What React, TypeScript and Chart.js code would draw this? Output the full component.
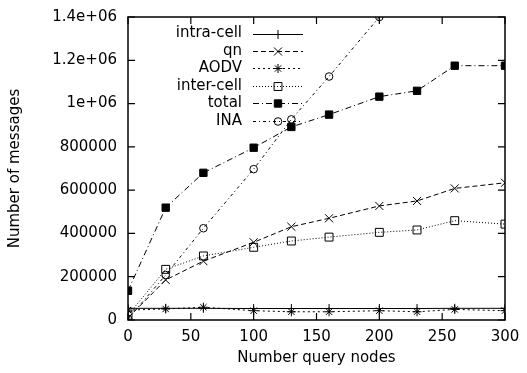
import React, { useEffect, useRef } from 'react';
import { Chart, registerables } from 'chart.js';
import { drawPoint } from 'chart.js/helpers';

Chart.register(...registerables);

// ---- data ----
const queryNodes = [0, 30, 60, 100, 130, 160, 200, 230, 260, 300];
const inaNodes = [0, 30, 60, 100, 130, 160, 200];
const intraCell = [54000, 54000, 54000, 53000, 53000, 53000, 53000, 53000, 54000, 54000];
const qn = [10000, 185000, 272000, 359000, 431000, 470000, 527000, 550000, 608000, 634000];
const aodv = [46000, 51000, 59000, 43000, 38000, 38000, 43000, 38000, 49000, 43000];
const interCell = [22000, 234000, 296000, 336000, 365000, 383000, 405000, 416000, 459000, 443000];
const total = [135000, 519000, 680000, 796000, 892000, 949000, 1032000, 1059000, 1175000, 1175000];
const ina = [5000, 208000, 424000, 697000, 927000, 1125000, 1400000];

const seriesLabels = ['intra-cell', 'qn', 'AODV', 'inter-cell', 'total', 'INA'];
const xTickValues = [0, 50, 100, 150, 200, 250, 300];
const yTickValues = [0, 200000, 400000, 600000, 800000, 1000000, 1200000, 1400000];

const FONT = 'DejaVu Sans';

// styles (kept apart from the data)
const styles = [
  { dash: [], pointStyle: 'cross', radius: 4.5, fill: 'rgba(0,0,0,0)' },
  { dash: [5, 3], pointStyle: 'crossRot', radius: 5.7, fill: 'rgba(0,0,0,0)' },
  { dash: [2, 3], pointStyle: 'star', radius: 4.5, fill: 'rgba(0,0,0,0)' },
  { dash: [1, 2], pointStyle: 'rect', radius: 5.6, fill: 'rgba(0,0,0,0)' },
  { dash: [6, 3, 1, 3], pointStyle: 'rect', radius: 5.2, fill: '#000' },
  { dash: [3, 3, 1, 3], pointStyle: 'circle', radius: 3.8, fill: 'rgba(0,0,0,0)' },
];

const seriesValues = [intraCell, qn, aodv, interCell, total, ina];
const seriesX = [queryNodes, queryNodes, queryNodes, queryNodes, queryNodes, inaNodes];

function fmtY(v: number): string {
  if (v >= 1000000) {
    const m = v / 1000000;
    return `${m}e+06`;
  }
  return String(v);
}

const framePlugin = {
  id: 'gnuplotFrame',
  beforeDatasetsDraw(chart: any) {
    const { ctx, chartArea } = chart;
    const { left, right, top, bottom } = chartArea;
    const xs = chart.scales.x;
    const ys = chart.scales.y;
    ctx.save();
    ctx.strokeStyle = '#000';
    ctx.lineWidth = 1.5;
    ctx.setLineDash([]);
    ctx.strokeRect(left, top, right - left, bottom - top);
    ctx.lineWidth = 1.2;
    const tl = 7;
    ctx.beginPath();
    for (const v of xTickValues) {
      const px = xs.getPixelForValue(v);
      ctx.moveTo(px, bottom);
      ctx.lineTo(px, bottom - tl);
      ctx.moveTo(px, top);
      ctx.lineTo(px, top + tl);
    }
    for (const v of yTickValues) {
      const py = ys.getPixelForValue(v);
      ctx.moveTo(left, py);
      ctx.lineTo(left + tl, py);
      ctx.moveTo(right, py);
      ctx.lineTo(right - tl, py);
    }
    ctx.stroke();
    ctx.restore();
  },
};

const legendPlugin = {
  id: 'gnuplotLegend',
  afterDraw(chart: any) {
    const { ctx } = chart;
    const textRight = 242;
    const lineStart = 253;
    const lineEnd = 303;
    const y0 = 33.5;
    const dy = 17.45;
    ctx.save();
    ctx.font = `15px "${FONT}"`;
    ctx.textAlign = 'right';
    ctx.textBaseline = 'middle';
    seriesLabels.forEach((label, i) => {
      const y = y0 + i * dy;
      const st = styles[i];
      ctx.fillStyle = '#000';
      ctx.fillText(label, textRight, y);
      ctx.strokeStyle = '#000';
      ctx.lineWidth = 1;
      ctx.setLineDash(st.dash);
      ctx.beginPath();
      ctx.moveTo(lineStart, Math.round(y) + 0.5);
      ctx.lineTo(lineEnd, Math.round(y) + 0.5);
      ctx.stroke();
      ctx.setLineDash([]);
      ctx.fillStyle = st.fill;
      drawPoint(ctx, { pointStyle: st.pointStyle, radius: st.radius, rotation: 0, borderWidth: 1 } as any, (lineStart + lineEnd) / 2, Math.round(y) + 0.5);
    });
    ctx.restore();
  },
};

export default function App() {
  const ref = useRef<HTMLCanvasElement | null>(null);

  useEffect(() => {
    const canvas = ref.current;
    if (!canvas) return;
    Chart.defaults.font.family = FONT;
    Chart.defaults.color = '#000';

    const datasets = seriesLabels.map((label, i) => ({
      label,
      data: seriesX[i].map((x, j) => ({ x, y: seriesValues[i][j] })),
      borderColor: '#000',
      borderWidth: 1,
      borderDash: styles[i].dash,
      backgroundColor: styles[i].fill,
      pointStyle: styles[i].pointStyle as any,
      pointRadius: styles[i].radius,
      pointBorderColor: '#000',
      pointBackgroundColor: styles[i].fill,
      pointBorderWidth: 1,
      pointHoverRadius: styles[i].radius,
      fill: false,
      tension: 0,
    }));

    const chart = new Chart(canvas, {
      type: 'line',
      data: { datasets },
      options: {
        animation: false,
        responsive: false,
        devicePixelRatio: 1,
        events: [],
        layout: { padding: { left: 0, top: 17, right: 22, bottom: 0 } },
        plugins: { legend: { display: false }, tooltip: { enabled: false }, title: { display: false } },
        scales: {
          x: {
            type: 'linear',
            min: 0,
            max: 300,
            grid: { display: false, drawTicks: false },
            border: { display: false },
            afterFit: (s: any) => { s.height = 53; s.paddingLeft = 0; s.paddingRight = 0; },
            afterBuildTicks: (s: any) => { s.ticks = xTickValues.map((v) => ({ value: v })); },
            ticks: { font: { size: 15, family: FONT }, color: '#000', padding: 8, maxRotation: 0, autoSkip: false },
            title: { display: true, text: 'Number query nodes', font: { size: 15, family: FONT }, color: '#000', padding: { top: 0, bottom: 6 } },
          },
          y: {
            type: 'linear',
            min: 0,
            max: 1400000,
            grid: { display: false, drawTicks: false },
            border: { display: false },
            afterFit: (s: any) => { s.width = 128; s.paddingTop = 0; s.paddingBottom = 0; },
            afterBuildTicks: (s: any) => { s.ticks = yTickValues.map((v) => ({ value: v })); },
            ticks: { font: { size: 15, family: FONT }, color: '#000', padding: 11, autoSkip: false, callback: (v: any) => fmtY(Number(v)) },
            title: { display: true, text: 'Number of messages', font: { size: 15, family: FONT }, color: '#000', padding: { top: 6, bottom: 0 } },
          },
        },
      },
      plugins: [framePlugin, legendPlugin],
    });
    return () => chart.destroy();
  }, []);

  return (
    <div style={{ position: 'absolute', left: 0, top: 0, width: 527, height: 373, background: '#fff' }}>
      <canvas ref={ref} width={527} height={373} style={{ display: 'block', width: 527, height: 373 }} />
    </div>
  );
}
